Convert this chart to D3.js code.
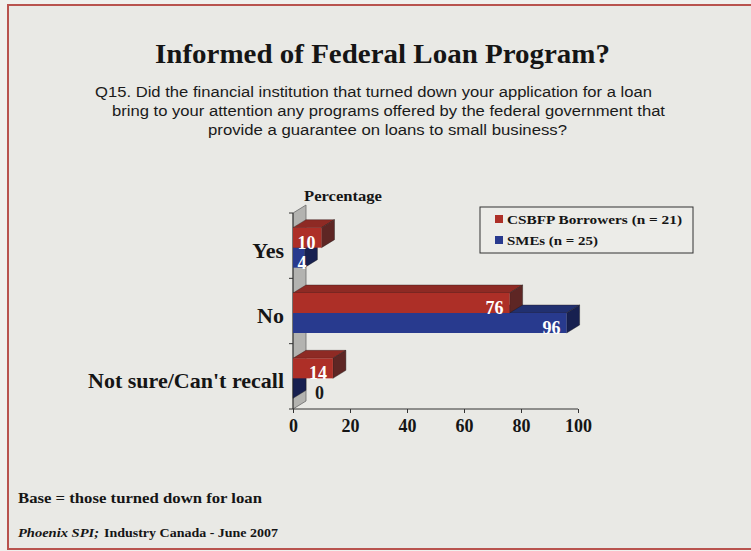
<!DOCTYPE html>
<html>
<head>
<meta charset="utf-8">
<script src="https://cdn.jsdelivr.net/npm/d3@7"></script>
<style>
  html, body { margin: 0; padding: 0; background: #f0f0ed; }
  svg { display: block; }
</style>
</head>
<body>
<script>
// Survey answers, percent of respondents
const categories = ["Yes", "No", "Not sure/Can't recall"];
const seriesNames = ["CSBFP Borrowers (n = 21)", "SMEs (n = 25)"];
const csbfpValues = [10, 76, 14];
const smeValues = [4, 96, 0];
const xTicks = [0, 20, 40, 60, 80, 100];

const W = 751, H = 551;
const serif = "'Liberation Serif', 'Times New Roman', serif";
const sans = "'Liberation Sans', Arial, sans-serif";

const svg = d3.select("body").append("svg")
  .attr("width", W).attr("height", H);

// slide background and frame
svg.append("rect").attr("x", 8).attr("y", 5).attr("width", W + 10).attr("height", 544)
  .attr("fill", "#e9e9e5").attr("stroke", "#b8534e").attr("stroke-width", 2);

// title and question
svg.append("text").attr("x", 155).attr("y", 63)
  .attr("font-family", serif).attr("font-weight", "bold").attr("font-size", 28)
  .attr("textLength", 455).attr("lengthAdjust", "spacingAndGlyphs")
  .attr("fill", "#151515").text("Informed of Federal Loan Program?");

const question = [
  { t: "Q15. Did the financial institution that turned down your application for a loan", x: 95, y: 97, w: 557 },
  { t: "bring to your attention any programs offered by the federal government that", x: 112, y: 116, w: 553 },
  { t: "provide a guarantee on loans to small business?", x: 208, y: 135, w: 359 }
];
svg.append("g").selectAll("text").data(question).join("text")
  .attr("x", d => d.x).attr("y", d => d.y)
  .attr("font-family", sans).attr("font-size", 14)
  .attr("textLength", d => d.w).attr("lengthAdjust", "spacingAndGlyphs")
  .attr("fill", "#1a1a1a").text(d => d.t);

// plot geometry
const x = d3.scaleLinear().domain([0, 100]).range([293, 578]);
const y = d3.scaleBand().domain(categories).range([213, 409]);
const depthX = 13, depthY = -8;
const barH = 20;

const colors = [
  { front: "#ad2f27", top: "#8e2a24", side: "#5e2624" },
  { front: "#283a8e", top: "#213070", side: "#172050" }
];

const plot = svg.append("g");

// side wall
const y0 = y.range()[0], y1 = y.range()[1], xa = x(0);
plot.append("path")
  .attr("d", `M${xa},${y0}L${xa + depthX},${y0 + depthY}L${xa + depthX},${y1 + depthY}L${xa},${y1}Z`)
  .attr("fill", "#b3b3b0").attr("stroke", "#6a6a6a").attr("stroke-width", 0.8);

// axes
plot.append("line").attr("x1", xa).attr("x2", xa).attr("y1", y0).attr("y2", y1)
  .attr("stroke", "#333").attr("stroke-width", 1);
plot.append("g").selectAll("line").data([0, 1, 2, 3]).join("line")
  .attr("x1", xa - 4).attr("x2", xa)
  .attr("y1", i => y0 + i * y.step()).attr("y2", i => y0 + i * y.step())
  .attr("stroke", "#333");

const xAxis = plot.append("g").attr("transform", `translate(0,${y1})`)
  .call(d3.axisBottom(x).tickValues(xTicks).tickSize(4).tickPadding(6).tickFormat(d3.format("d")));
xAxis.select(".domain").attr("stroke", "#333").attr("d", `M${x(0)},0H${x(100)}`);
xAxis.selectAll(".tick line").attr("stroke", "#333");
xAxis.selectAll("text").attr("font-family", serif).attr("font-weight", "bold")
  .attr("font-size", 18).attr("fill", "#151515");

// category labels
plot.append("g").selectAll("text").data(categories).join("text")
  .attr("x", 284).attr("y", d => y(d) + y.bandwidth() / 2 + 12)
  .attr("text-anchor", "end")
  .attr("font-family", serif).attr("font-weight", "bold").attr("font-size", 22)
  .attr("fill", "#151515").text(d => d);

// "Percentage" axis caption
svg.append("text").attr("x", 304).attr("y", 201)
  .attr("font-family", serif).attr("font-weight", "bold").attr("font-size", 14)
  .attr("textLength", 78).attr("lengthAdjust", "spacingAndGlyphs")
  .attr("fill", "#151515").text("Percentage");

// 3D bars: lower series first so the upper bar sits on top of it
function drawBox(g, xStart, xEnd, top, h, c) {
  const dx = depthX, dy = depthY;
  g.append("path")
    .attr("d", `M${xStart},${top}L${xStart + dx},${top + dy}L${xEnd + dx},${top + dy}L${xEnd},${top}Z`)
    .attr("fill", c.top).attr("stroke", "#2a1a1a").attr("stroke-width", 0.4);
  g.append("path")
    .attr("d", `M${xEnd},${top}L${xEnd + dx},${top + dy}L${xEnd + dx},${top + h + dy}L${xEnd},${top + h}Z`)
    .attr("fill", c.side).attr("stroke", "#1a1a1a").attr("stroke-width", 0.4);
  g.append("rect").attr("x", xStart).attr("y", top).attr("width", xEnd - xStart).attr("height", h)
    .attr("fill", c.front);
}

const bars = plot.append("g");
const series = [csbfpValues, smeValues];
categories.forEach((cat, i) => {
  const groupTop = y(cat) + (y.bandwidth() - 2 * barH) / 2 + 2;
  [1, 0].forEach(s => {
    const v = series[s][i];
    const top = groupTop + s * barH;
    drawBox(bars.append("g"), x(0), x(v), top, barH, colors[s]);
  });
});

// value labels
const labels = plot.append("g");
categories.forEach((cat, i) => {
  const groupTop = y(cat) + (y.bandwidth() - 2 * barH) / 2 + 2;
  [0, 1].forEach(s => {
    const v = series[s][i];
    const bottom = groupTop + (s + 1) * barH;
    const t = labels.append("text")
      .attr("y", bottom + 1)
      .attr("font-family", serif).attr("font-weight", "bold").attr("font-size", 18)
      .text(v);
    if (v === 0) {
      t.attr("x", x(0) + 22).attr("text-anchor", "start").attr("fill", "#1a1a1a");
    } else if (v < 8) {
      t.attr("x", x(v) + 2).attr("text-anchor", "end").attr("fill", "#ffffff");
    } else {
      t.attr("x", x(v) - 6).attr("text-anchor", "end").attr("fill", "#ffffff");
    }
  });
});

// legend
const legend = svg.append("g");
legend.append("rect").attr("x", 480).attr("y", 207).attr("width", 213).attr("height", 46)
  .attr("fill", "#ecece8").attr("stroke", "#333").attr("stroke-width", 1);
const legendWidths = [175, 91];
seriesNames.forEach((name, s) => {
  const ly = 215 + s * 21;
  legend.append("rect").attr("x", 495).attr("y", ly).attr("width", 8).attr("height", 8)
    .attr("fill", colors[s].front);
  legend.append("text").attr("x", 507).attr("y", ly + 8.5)
    .attr("font-family", serif).attr("font-weight", "bold").attr("font-size", 13.5)
    .attr("textLength", legendWidths[s]).attr("lengthAdjust", "spacingAndGlyphs")
    .attr("fill", "#151515").text(name);
});

// footnotes
svg.append("text").attr("x", 18).attr("y", 503)
  .attr("font-family", serif).attr("font-weight", "bold").attr("font-size", 14.5)
  .attr("textLength", 244).attr("lengthAdjust", "spacingAndGlyphs")
  .attr("fill", "#151515").text("Base = those turned down for loan");
svg.append("text").attr("x", 18).attr("y", 537)
  .attr("font-family", serif).attr("font-weight", "bold").attr("font-style", "italic")
  .attr("font-size", 13).attr("textLength", 81).attr("lengthAdjust", "spacingAndGlyphs")
  .attr("fill", "#151515").text("Phoenix SPI;");
svg.append("text").attr("x", 104).attr("y", 537)
  .attr("font-family", serif).attr("font-weight", "bold")
  .attr("font-size", 13).attr("textLength", 174).attr("lengthAdjust", "spacingAndGlyphs")
  .attr("fill", "#151515").text("Industry Canada - June 2007");
</script>
</body>
</html>
